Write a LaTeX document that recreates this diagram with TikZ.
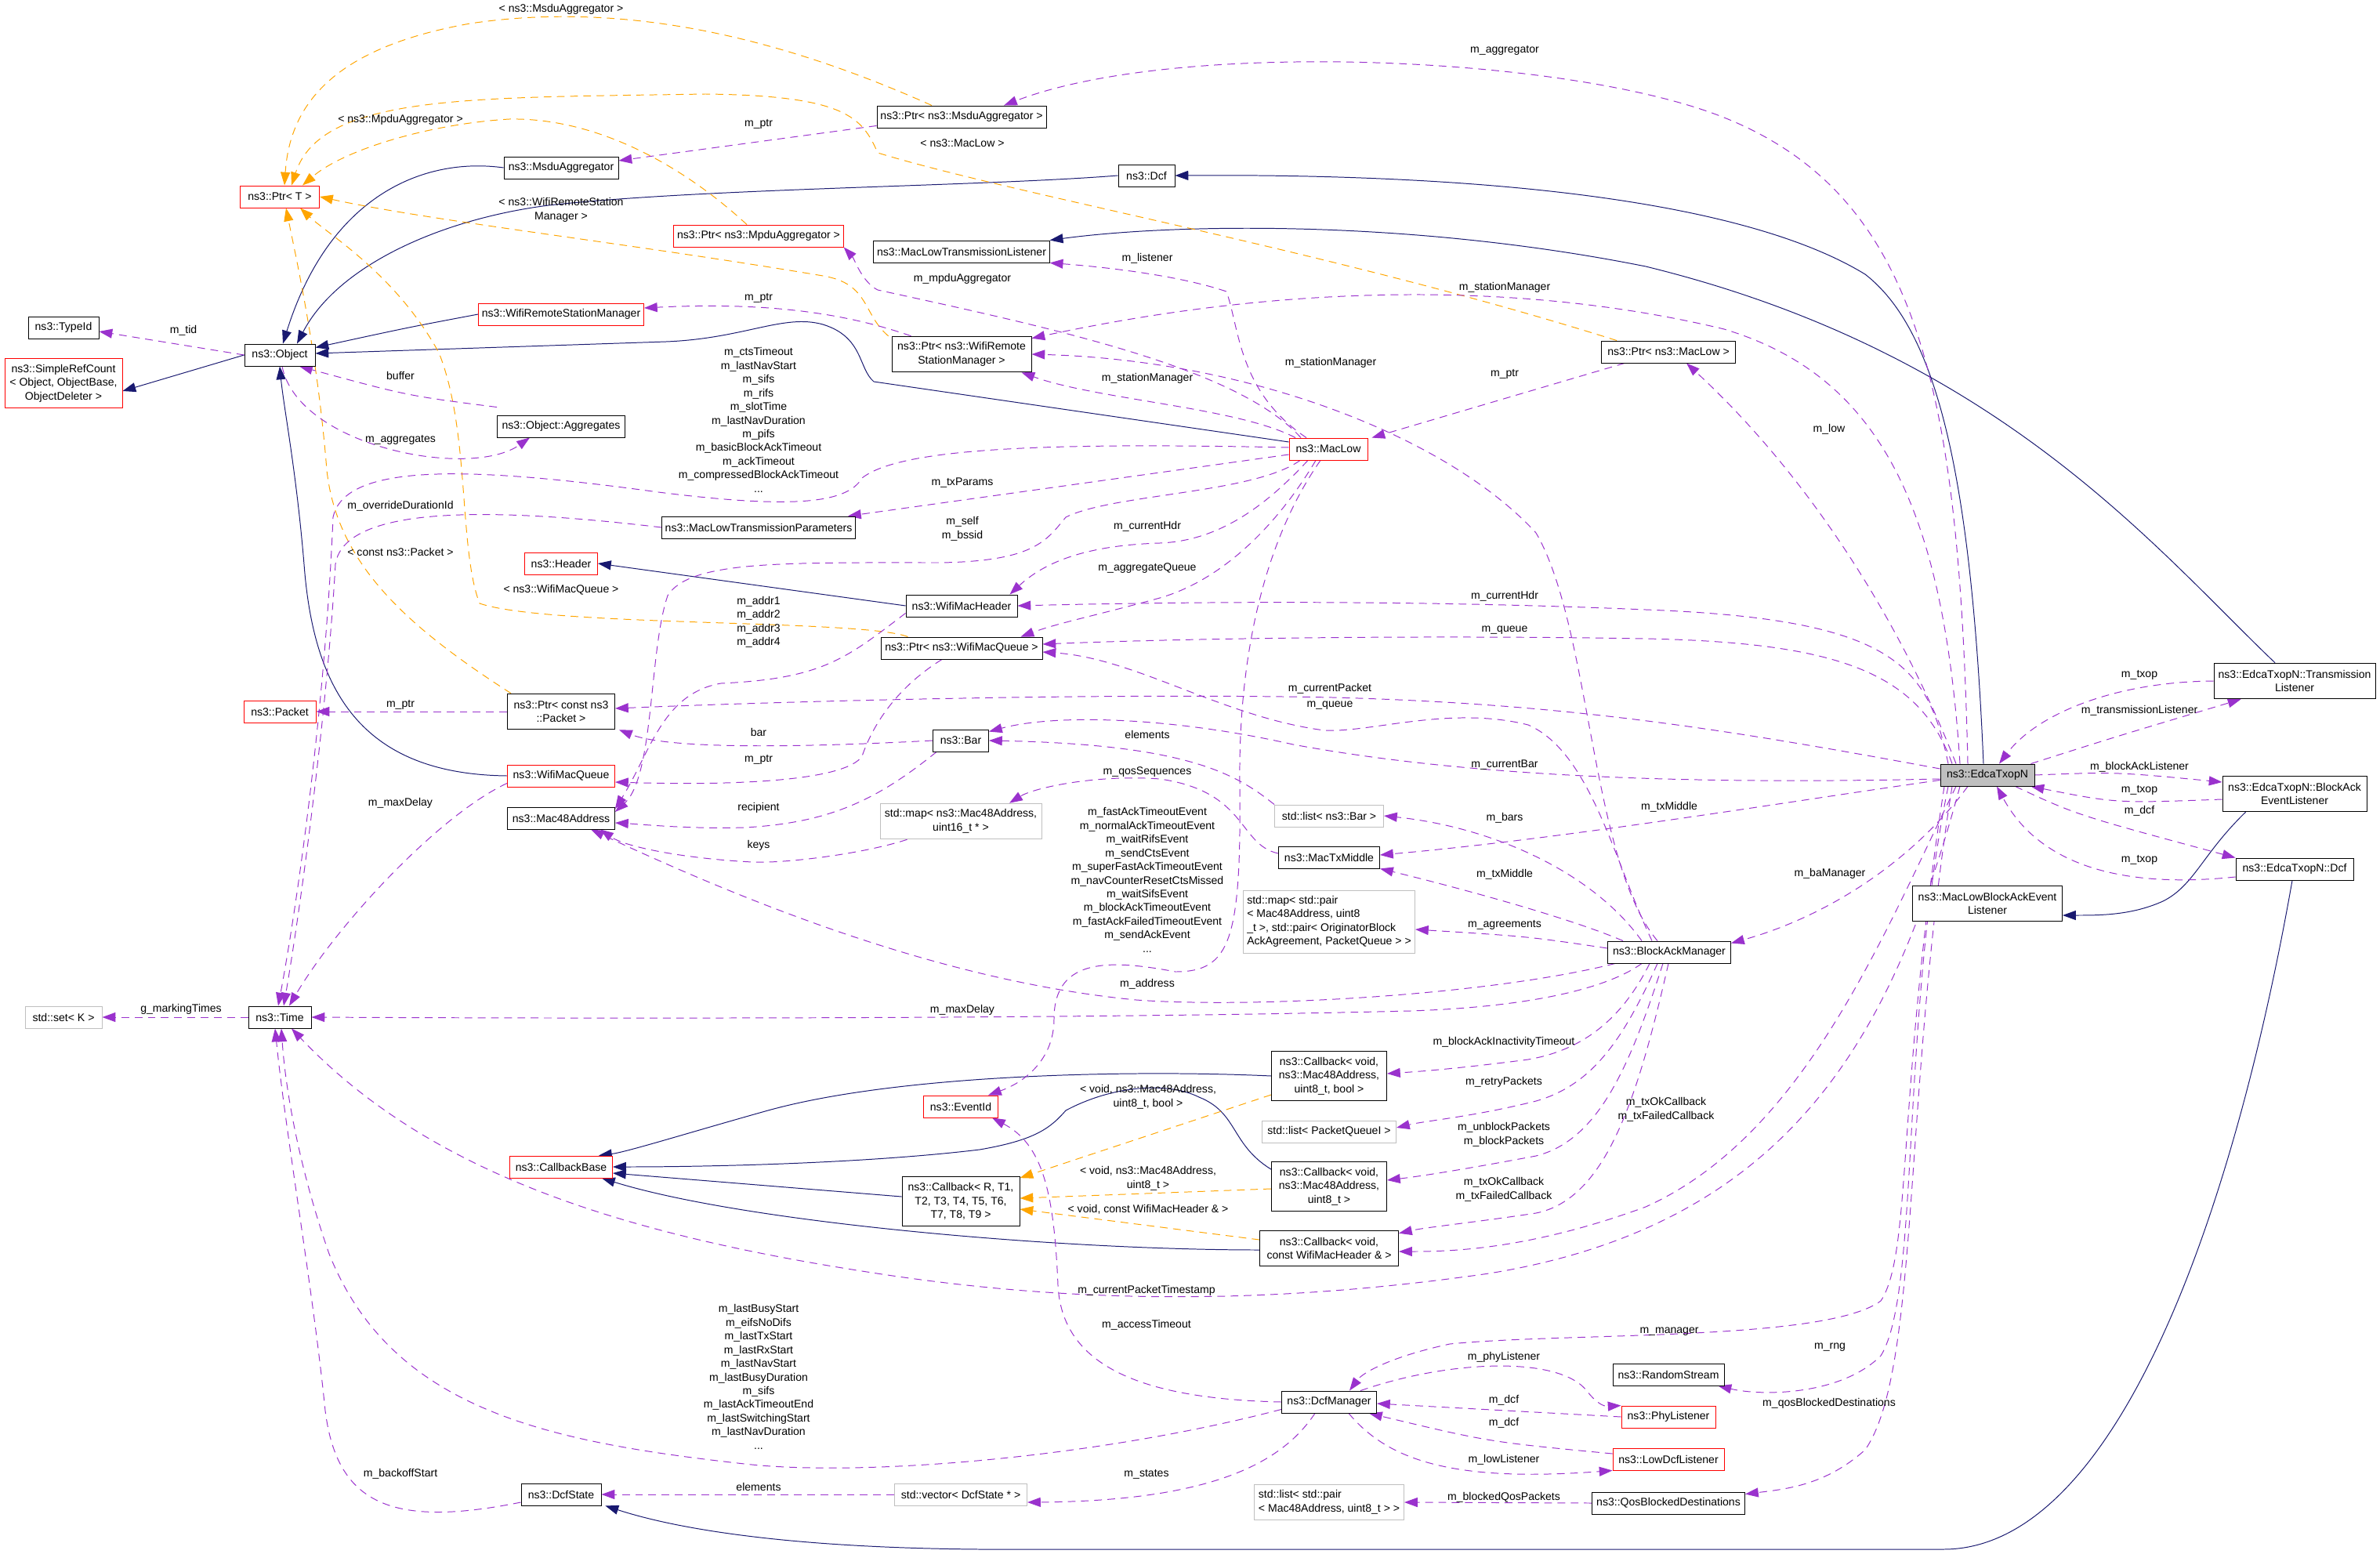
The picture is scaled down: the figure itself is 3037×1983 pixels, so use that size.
\documentclass[tikz,border=0pt]{standalone}
\usepackage{fontspec}
\setmainfont{Liberation Sans}
\usepackage{xcolor}
\usepackage{tikz}
\usetikzlibrary{arrows.meta,calc,backgrounds}

\definecolor{inhblue}{HTML}{191970}
\definecolor{usepurple}{HTML}{9A32CD}
\definecolor{tplorange}{HTML}{FFA500}
\definecolor{undocred}{HTML}{FF0000}
\definecolor{extgray}{HTML}{BFBFBF}
\definecolor{focusgray}{HTML}{BFBFBF}

\begin{document}
\begin{tikzpicture}[
  x=0.025cm, y=-0.025cm,
  font=\fontsize{10}{12.4}\selectfont,
  cls/.style={draw, line width=0.65pt, align=center, fill=white,
    inner xsep=3pt, inner ysep=2pt, minimum height=0.7cm},
  undoc/.style={cls, draw=undocred},
  ext/.style={cls, draw=extgray},
  bw/.style={minimum width=#1*0.025cm},
  two/.style={minimum height=1.14cm},
  three/.style={minimum height=1.57cm},
  lbl/.style={align=center, inner sep=0pt},
  inherit/.style={-{Triangle[length=0.42cm,width=0.3cm]}, inhblue, line width=0.7pt},
  uses/.style={-{Triangle[length=0.42cm,width=0.3cm]}, usepurple, line width=0.7pt,
    dash pattern=on 7pt off 5pt},
  tmpl/.style={-{Triangle[length=0.42cm,width=0.3cm]}, tplorange, line width=0.7pt,
    dash pattern=on 7pt off 5pt},
]
\useasboundingbox (0,0) rectangle (3037,1983);

\node[undoc, bw=101] (ptrT) at (357,251) {ns3::Ptr< T >};
\node[cls, bw=146] (msdu) at (716,214) {ns3::MsduAggregator};
\node[cls, bw=216] (ptrMsdu) at (1227,149) {ns3::Ptr< ns3::MsduAggregator >};
\node[cls, bw=72] (dcf) at (1463,224) {ns3::Dcf};
\node[cls, bw=224] (lowTxListener) at (1227,321) {ns3::MacLowTransmissionListener};
\node[undoc, bw=215] (ptrMpdu) at (968,301) {ns3::Ptr< ns3::MpduAggregator >};
\node[undoc, bw=210] (stationMgr) at (716,401) {ns3::WifiRemoteStationManager};
\node[cls, bw=90] (typeId) at (81,418) {ns3::TypeId};
\node[cls, bw=90] (object) at (357,453) {ns3::Object};
\node[undoc, bw=150, three] (refCount) at (81,489) {ns3::SimpleRefCount\\< Object, ObjectBase,\\ObjectDeleter >};
\node[cls, bw=178, two] (ptrStation) at (1227,452) {ns3::Ptr< ns3::WifiRemote\\StationManager >};
\node[cls, bw=171] (ptrMacLow) at (2129,449) {ns3::Ptr< ns3::MacLow >};
\node[cls, bw=163] (aggregates) at (716,544) {ns3::Object::Aggregates};
\node[undoc, bw=100] (macLow) at (1695,573) {ns3::MacLow};
\node[cls, bw=246] (txParams) at (968,673) {ns3::MacLowTransmissionParameters};
\node[undoc, bw=93] (header) at (716,719) {ns3::Header};
\node[cls, bw=142] (macHeader) at (1227,773) {ns3::WifiMacHeader};
\node[cls, bw=206] (ptrQueue) at (1227,827) {ns3::Ptr< ns3::WifiMacQueue >};
\node[undoc, bw=92] (packet) at (357,908) {ns3::Packet};
\node[cls, bw=137, two] (ptrPacket) at (716,908) {ns3::Ptr< const ns3\\::Packet >};
\node[cls, bw=71] (bar) at (1226,945) {ns3::Bar};
\node[undoc, bw=137] (macQueue) at (716,990) {ns3::WifiMacQueue};
\node[cls, bw=137] (mac48) at (716,1044) {ns3::Mac48Address};
\node[ext, bw=206, two] (seqMap) at (1226,1048) {std::map< ns3::Mac48Address,\\uint16\_t * >};
\node[ext, bw=139] (barList) at (1696,1041) {std::list< ns3::Bar >};
\node[cls, bw=129] (txMiddle) at (1696,1094) {ns3::MacTxMiddle};
\node[ext, bw=219, minimum height=2cm, align=left] (agreementMap) at (1696,1176) {std::map< std::pair\\< Mac48Address, uint8\\\_t >, std::pair< OriginatorBlock\\AckAgreement, PacketQueue > >};
\node[cls, bw=157] (baManager) at (2130,1215) {ns3::BlockAckManager};
\node[cls, bw=120, fill=focusgray] (edca) at (2536,989) {ns3::EdcaTxopN};
\node[cls, bw=206, two] (txListener) at (2928,869) {ns3::EdcaTxopN::Transmission\\Listener};
\node[cls, bw=184, two] (baListener) at (2928,1013) {ns3::EdcaTxopN::BlockAck\\EventListener};
\node[cls, bw=150] (edcaDcf) at (2928,1109) {ns3::EdcaTxopN::Dcf};
\node[cls, bw=191, two] (lowBaListener) at (2536,1153) {ns3::MacLowBlockAckEvent\\Listener};
\node[ext, bw=98] (setK) at (81,1298) {std::set< K >};
\node[cls, bw=80] (time) at (357,1298) {ns3::Time};
\node[undoc, bw=95] (eventId) at (1226,1412) {ns3::EventId};
\node[cls, bw=147, three] (cbBool) at (1696,1373) {ns3::Callback< void,\\ns3::Mac48Address,\\uint8\_t, bool >};
\node[ext, bw=171] (queueList) at (1696,1444) {std::list< PacketQueueI >};
\node[undoc, bw=131] (cbBase) at (716,1489) {ns3::CallbackBase};
\node[cls, bw=150, three] (cbGeneric) at (1226,1533) {ns3::Callback< R, T1,\\T2, T3, T4, T5, T6,\\T7, T8, T9 >};
\node[cls, bw=147, three] (cbUint) at (1696,1514) {ns3::Callback< void,\\ns3::Mac48Address,\\uint8\_t >};
\node[cls, bw=177, two] (cbHeader) at (1696,1593) {ns3::Callback< void,\\const WifiMacHeader \& >};
\node[cls, bw=142] (rng) at (2129,1754) {ns3::RandomStream};
\node[cls, bw=121] (dcfManager) at (1696,1789) {ns3::DcfManager};
\node[undoc, bw=120] (phyListener) at (2129,1808) {ns3::PhyListener};
\node[undoc, bw=142] (lowListener) at (2129,1862) {ns3::LowDcfListener};
\node[cls, bw=102] (dcfState) at (716,1907) {ns3::DcfState};
\node[ext, bw=169] (stateVector) at (1226,1907) {std::vector< DcfState * >};
\node[ext, bw=191, two, align=left] (packetList) at (1696,1917) {std::list< std::pair\\< Mac48Address, uint8\_t > >};
\node[cls, bw=195] (blockedDest) at (2129,1918) {ns3::QosBlockedDestinations};

\node[lbl] (tMsdu) at (716,12) {< ns3::MsduAggregator >};
\node[lbl] (tMpdu) at (511,153) {< ns3::MpduAggregator >};
\node[lbl] (tPtrMsdu) at (968,158) {m\_ptr};
\node[lbl] (tStation) at (716,268) {< ns3::WifiRemoteStation\\Manager >};
\node[lbl] (tPtrStation) at (968,380) {m\_ptr};
\node[lbl] (tTid) at (234,422) {m\_tid};
\node[lbl] (tBuffer) at (511,479) {buffer};
\node[lbl] (tAggregates) at (511,561) {m\_aggregates};
\node[lbl] (tLowTimes) at (968,536) {m\_ctsTimeout\\m\_lastNavStart\\m\_sifs\\m\_rifs\\m\_slotTime\\m\_lastNavDuration\\m\_pifs\\m\_basicBlockAckTimeout\\m\_ackTimeout\\m\_compressedBlockAckTimeout\\...};
\node[lbl] (tOverride) at (511,646) {m\_overrideDurationId};
\node[lbl] (tPacketTpl) at (511,704) {< const ns3::Packet >};
\node[lbl] (tQueueTpl) at (716,753) {< ns3::WifiMacQueue >};
\node[lbl] (tAddr) at (968,794) {m\_addr1\\m\_addr2\\m\_addr3\\m\_addr4};
\node[lbl] (tPtrPacket) at (511,899) {m\_ptr};
\node[lbl] (tBar) at (968,934) {bar};
\node[lbl] (tPtrQueue) at (968,969) {m\_ptr};
\node[lbl] (tQueueDelay) at (511,1025) {m\_maxDelay};
\node[lbl] (tRecipient) at (968,1031) {recipient};
\node[lbl] (tKeys) at (968,1079) {keys};
\node[lbl] (tMarking) at (231,1288) {g\_markingTimes};
\node[lbl] (tAggregator) at (1920,64) {m\_aggregator};
\node[lbl] (tMacLowTpl) at (1228,183) {< ns3::MacLow >};
\node[lbl] (tListener) at (1464,330) {m\_listener};
\node[lbl] (tMpduAgg) at (1228,356) {m\_mpduAggregator};
\node[lbl] (tStationEdca) at (1920,367) {m\_stationManager};
\node[lbl] (tStationBa) at (1698,463) {m\_stationManager};
\node[lbl] (tPtrMacLow) at (1920,477) {m\_ptr};
\node[lbl] (tStationLow) at (1464,483) {m\_stationManager};
\node[lbl] (tLow) at (2334,548) {m\_low};
\node[lbl] (tTxParams) at (1228,616) {m\_txParams};
\node[lbl] (tSelf) at (1228,675) {m\_self\\m\_bssid};
\node[lbl] (tHdrLow) at (1464,672) {m\_currentHdr};
\node[lbl] (tAggQueue) at (1464,725) {m\_aggregateQueue};
\node[lbl] (tHdrEdca) at (1920,761) {m\_currentHdr};
\node[lbl] (tQueueEdca) at (1920,804) {m\_queue};
\node[lbl] (tCurPacket) at (1697,879) {m\_currentPacket};
\node[lbl] (tQueueBa) at (1697,900) {m\_queue};
\node[lbl] (tBarElems) at (1464,937) {elements};
\node[lbl] (tCurBar) at (1920,976) {m\_currentBar};
\node[lbl] (tQosSeq) at (1464,985) {m\_qosSequences};
\node[lbl] (tLowEvents) at (1464,1123) {m\_fastAckTimeoutEvent\\m\_normalAckTimeoutEvent\\m\_waitRifsEvent\\m\_sendCtsEvent\\m\_superFastAckTimeoutEvent\\m\_navCounterResetCtsMissed\\m\_waitSifsEvent\\m\_blockAckTimeoutEvent\\m\_fastAckFailedTimeoutEvent\\m\_sendAckEvent\\...};
\node[lbl] (tBars) at (1920,1044) {m\_bars};
\node[lbl] (tMiddleBa) at (1920,1116) {m\_txMiddle};
\node[lbl] (tAgreements) at (1920,1180) {m\_agreements};
\node[lbl] (tAddress) at (1464,1256) {m\_address};
\node[lbl] (tBaDelay) at (1228,1289) {m\_maxDelay};
\node[lbl] (tTxopTl) at (2730,861) {m\_txop};
\node[lbl] (tTxListener) at (2730,907) {m\_transmissionListener};
\node[lbl] (tBaListener) at (2730,979) {m\_blockAckListener};
\node[lbl] (tTxopBal) at (2730,1008) {m\_txop};
\node[lbl] (tDcfEdca) at (2730,1035) {m\_dcf};
\node[lbl] (tTxopDcf) at (2730,1097) {m\_txop};
\node[lbl] (tMiddleEdca) at (2130,1030) {m\_txMiddle};
\node[lbl] (tBaMgr) at (2335,1115) {m\_baManager};
\node[lbl] (tInactivity) at (1919,1330) {m\_blockAckInactivityTimeout};
\node[lbl] (tRetry) at (1919,1381) {m\_retryPackets};
\node[lbl] (tUnblock) at (1919,1448) {m\_unblockPackets\\m\_blockPackets};
\node[lbl] (tTxOkBa) at (1919,1518) {m\_txOkCallback\\m\_txFailedCallback};
\node[lbl] (tTxOkEdca) at (2126,1416) {m\_txOkCallback\\m\_txFailedCallback};
\node[lbl] (tTimestamp) at (1463,1647) {m\_currentPacketTimestamp};
\node[lbl] (tAccess) at (1463,1691) {m\_accessTimeout};
\node[lbl] (tPhyL) at (1919,1732) {m\_phyListener};
\node[lbl] (tDcfPhy) at (1919,1787) {m\_dcf};
\node[lbl] (tDcfLow) at (1919,1816) {m\_dcf};
\node[lbl] (tLowL) at (1919,1863) {m\_lowListener};
\node[lbl] (tStates) at (1463,1881) {m\_states};
\node[lbl] (tBlockedPk) at (1919,1911) {m\_blockedQosPackets};
\node[lbl] (tManager) at (2130,1699) {m\_manager};
\node[lbl] (tRng) at (2335,1719) {m\_rng};
\node[lbl] (tQosBlocked) at (2334,1791) {m\_qosBlockedDestinations};
\node[lbl] (tMgrTimes) at (968,1757) {m\_lastBusyStart\\m\_eifsNoDifs\\m\_lastTxStart\\m\_lastRxStart\\m\_lastNavStart\\m\_lastBusyDuration\\m\_sifs\\m\_lastAckTimeoutEnd\\m\_lastSwitchingStart\\m\_lastNavDuration\\...};
\node[lbl] (tBackoff) at (511,1881) {m\_backoffStart};
\node[lbl] (tStateElems) at (968,1897) {elements};
\node[lbl] (tCbBool) at (1465,1400) {< void, ns3::Mac48Address,\\uint8\_t, bool >};
\node[lbl] (tCbUint) at (1465,1504) {< void, ns3::Mac48Address,\\uint8\_t >};
\node[lbl] (tCbHeader) at (1465,1543) {< void, const WifiMacHeader \& >};

\begin{scope}[on background layer]
\draw[inherit] (msdu.west) .. controls (540,200) and (420,250) .. ($(object.north)+(4,0)$);
\draw[inherit] (dcf.west) .. controls (1250,238) and (900,240) .. (700,262) .. controls (560,280) and (430,340) .. ($(object.north)+(22,0)$);
\draw[inherit] (stationMgr.west) .. controls (520,418) .. ($(object.north east)+(0,5)$);
\draw[inherit] ($(macLow.west)+(0,-9)$) -- (1115,487) .. controls (1095,470) and (1102,430) .. (1050,414) .. controls (1000,400) and (950,432) .. (850,436) -- ($(object.east)+(0,-2)$);
\draw[inherit] (object.west) -- ($(refCount.east)+(0,10)$);
\draw[inherit] (macHeader.west) -- (header.east);
\draw[inherit] (macQueue.west) .. controls (460,988) and (400,880) .. (388,720) .. controls (378,600) and (362,520) .. (object.south);
\draw[inherit] (cbBool.west) .. controls (1450,1365) and (1150,1370) .. (980,1417) .. controls (880,1445) and (800,1470) .. ($(cbBase.north east)+(-18,0)$);
\draw[inherit] ($(cbUint.north west)+(0,10)$) .. controls (1570,1460) and (1580,1420) .. (1530,1400) .. controls (1490,1380) and (1420,1385) .. (1360,1417) .. controls (1340,1440) and (1320,1455) .. (1250,1467) .. controls (1100,1485) and (900,1489) .. (cbBase.east);
\draw[inherit] ($(cbGeneric.west)+(0,-6)$) -- ($(cbBase.east)+(0,8)$);
\draw[inherit] ($(cbHeader.west)+(0,2)$) .. controls (1350,1595) and (950,1560) .. ($(cbBase.south east)+(-14,0)$);
\draw[inherit] ($(edca.north)+(-5,0)$) .. controls (2515,600) and (2470,420) .. (2380,350) .. controls (2200,240) and (1800,222) .. (dcf.east);
\draw[inherit] ($(txListener.north)+(-25,0)$) .. controls (2750,700) and (2550,450) .. (2100,340) .. controls (1800,280) and (1500,285) .. (lowTxListener.north east);
\draw[inherit] ($(baListener.south west)+(30,0)$) .. controls (2810,1090) and (2800,1130) .. (2760,1150) .. controls (2720,1168) and (2680,1168) .. ($(lowBaListener.east)+(0,15)$);
\draw[inherit] ($(edcaDcf.south)+(-3,0)$) .. controls (2850,1550) and (2700,1977) .. (2480,1977) -- (1250,1977) .. controls (1000,1975) and (860,1950) .. ($(dcfState.south east)+(5,0)$);

\draw[tmpl] ($(ptrMsdu.north)+(-38,0)$) .. controls (1000,50) and (800,0) .. (600,30) .. controls (430,60) and (370,130) .. ($(ptrT.north)+(6,0)$);
\draw[tmpl] ($(ptrMpdu.north)+(-15,0)$) .. controls (870,210) and (760,150) .. (650,152) .. controls (550,158) and (440,190) .. ($(ptrT.north)+(29,0)$);
\draw[tmpl] ($(ptrStation.north west)+(-4,0)$) .. controls (1100,400) and (1110,362) .. (1050,352) .. controls (800,310) and (550,282) .. (ptrT.east);
\draw[tmpl] ($(ptrMacLow.north west)+(20,0)$) .. controls (1700,320) and (1300,250) .. (1120,195) .. controls (1100,150) and (1080,122) .. (900,120) .. controls (600,125) and (410,120) .. ($(ptrT.north)+(15,0)$);
\draw[tmpl] ($(ptrPacket.north west)+(5,0)$) .. controls (520,800) and (430,720) .. (417,600) .. controls (405,450) and (378,330) .. ($(ptrT.south)+(8,0)$);
\draw[tmpl] ($(ptrQueue.north west)+(35,0)$) .. controls (1100,790) and (700,800) .. (612,770) .. controls (585,700) and (600,550) .. (560,450) .. controls (505,350) and (420,300) .. ($(ptrT.south east)+(-25,0)$);
\draw[tmpl] ($(cbBool.west)+(0,24)$) -- ($(cbGeneric.north east)+(0,2)$);
\draw[tmpl] ($(cbUint.west)+(0,3)$) -- ($(cbGeneric.east)+(0,-4)$);
\draw[tmpl] ($(cbHeader.west)+(0,-11)$) -- ($(cbGeneric.east)+(0,10)$);

\draw[uses] (object.west) -- ($(typeId.east)+(0,5)$);
\draw[uses] ($(aggregates.north west)+(0,-10)$) .. controls (520,505) .. ($(object.south)+(25,0)$);
\draw[uses] ($(object.south)+(3,0)$) .. controls (380,570) and (600,612) .. ($(aggregates.south)+(-40,0)$);
\draw[uses] ($(ptrMsdu.south west)+(0,-3)$) -- ($(msdu.east)+(0,-9)$);
\draw[uses] ($(ptrStation.north west)+(25,0)$) .. controls (1080,400) and (980,385) .. ($(stationMgr.east)+(0,-8)$);
\draw[uses] ($(edca.north)+(-25,0)$) .. controls (2500,500) and (2450,250) .. (2200,150) .. controls (2000,70) and (1500,50) .. ($(ptrMsdu.north)+(54,0)$);
\draw[uses] ($(macLow.north)+(-35,0)$) .. controls (1580,470) and (1350,420) .. (1120,370) .. controls (1100,360) and (1090,330) .. (ptrMpdu.south east);
\draw[uses] ($(macLow.north)+(-28,0)$) .. controls (1580,500) and (1582,420) .. (1565,372) .. controls (1500,350) and (1400,340) .. (lowTxListener.south east);
\draw[uses] ($(macLow.north)+(-42,0)$) .. controls (1580,520) and (1400,510) .. ($(ptrStation.south east)+(-13,0)$);
\draw[uses] ($(baManager.north)+(-15,0)$) .. controls (2030,1100) and (2030,800) .. (1960,680) .. controls (1850,560) and (1600,460) .. (ptrStation.east);
\draw[uses] ($(edca.north)+(-35,0)$) .. controls (2480,650) and (2400,480) .. (2200,420) .. controls (1950,360) and (1650,360) .. ($(ptrStation.north east)+(0,3)$);
\draw[uses] ($(edca.north)+(-40,0)$) .. controls (2420,780) and (2300,600) .. ($(ptrMacLow.south)+(23,0)$);
\draw[uses] ($(ptrMacLow.south west)+(30,0)$) -- ($(macLow.north east)+(5,0)$);
\draw[uses] ($(macLow.west)+(0,-2)$) .. controls (1350,565) and (1150,570) .. (1100,610) .. controls (1080,645) and (1000,648) .. (840,628) .. controls (600,595) and (440,590) .. (425,660) .. controls (415,900) and (380,1150) .. ($(time.north)+(-2,0)$);
\draw[uses] ($(macLow.west)+(0,7)$) -- ($(txParams.north east)+(-10,0)$);
\draw[uses] (txParams.west) .. controls (650,650) and (440,640) .. (428,720) .. controls (418,900) and (385,1150) .. ($(time.north)+(5,0)$);
\draw[uses] ($(macLow.south)+(-26,0)$) .. controls (1620,640) and (1560,690) .. (1480,693) .. controls (1380,696) and (1330,720) .. ($(macHeader.north east)+(-10,0)$);
\draw[uses] ($(macLow.south)+(-16,0)$) .. controls (1630,670) and (1560,740) .. (1480,763) .. controls (1400,785) and (1350,795) .. ($(ptrQueue.north east)+(-28,0)$);
\draw[uses] ($(macLow.south)+(-36,0)$) .. controls (1600,630) and (1420,630) .. (1360,660) .. controls (1335,690) and (1320,716) .. (1200,718) .. controls (1000,718) and (880,715) .. (852,760) .. controls (828,830) and (835,990) .. ($(mac48.east)+(0,-8)$);
\draw[uses] ($(macHeader.south west)+(0,-5)$) .. controls (1080,840) and (1050,866) .. (920,872) .. controls (845,885) and (830,960) .. ($(mac48.east)+(0,-12)$);
\draw[uses] ($(ptrQueue.south)+(-25,0)$) .. controls (1140,880) and (1112,930) .. (1100,965) .. controls (1080,995) and (950,1003) .. ($(macQueue.east)+(0,8)$);
\draw[uses] (ptrPacket.west) -- (packet.east);
\draw[uses] ($(edca.west)+(0,-8)$) .. controls (2200,930) and (2000,898) .. (1700,890) .. controls (1400,884) and (1000,895) .. ($(ptrPacket.east)+(0,-4)$);
\draw[uses] (bar.west) .. controls (1000,955) and (850,955) .. ($(ptrPacket.south east)+(5,0)$);
\draw[uses] ($(bar.south west)+(5,0)$) .. controls (1120,1020) and (1060,1050) .. (950,1056) .. controls (880,1058) and (820,1052) .. ($(mac48.east)+(0,6)$);
\draw[uses] ($(seqMap.south west)+(35,0)$) .. controls (1100,1090) and (1000,1102) .. (960,1100) .. controls (880,1096) and (800,1082) .. ($(mac48.south)+(50,0)$);
\draw[uses] ($(baManager.south west)+(10,0)$) .. controls (1900,1270) and (1600,1287) .. (1450,1276) .. controls (1200,1252) and (950,1150) .. ($(mac48.south)+(38,0)$);
\draw[uses] ($(edca.west)+(0,5)$) .. controls (2200,1000) and (1900,996) .. (1650,950) .. controls (1500,916) and (1350,910) .. ($(bar.north east)+(0,3)$);
\draw[uses] (barList.north west) .. controls (1580,990) and (1520,950) .. (bar.east);
\draw[uses] ($(txMiddle.west)+(0,-5)$) .. controls (1580,1078) and (1592,1010) .. (1480,994) .. controls (1400,988) and (1320,1005) .. ($(seqMap.north)+(62,0)$);
\draw[uses] ($(baManager.north)+(-35,0)$) .. controls (2030,1110) and (1900,1055) .. (barList.east);
\draw[uses] ($(edca.south west)+(0,-8)$) .. controls (2300,1020) and (2000,1070) .. ($(txMiddle.east)+(0,-3)$);
\draw[uses] ($(baManager.north west)+(20,0)$) .. controls (2000,1170) and (1850,1130) .. (txMiddle.south east);
\draw[uses] ($(baManager.west)+(0,-5)$) .. controls (1950,1195) .. ($(agreementMap.east)+(0,10)$);
\draw[uses] ($(baManager.south)+(-35,0)$) .. controls (2050,1262) and (1950,1285) .. (1800,1290) .. controls (1400,1300) and (800,1300) .. (time.east);
\draw[uses] ($(macQueue.south west)+(0,-5)$) .. controls (560,1040) and (430,1180) .. ($(time.north)+(12,0)$);
\draw[uses] ($(baManager.north)+(-22,0)$) .. controls (2060,1100) and (2030,960) .. (1950,925) .. controls (1850,900) and (1750,935) .. (1690,932) .. controls (1560,915) and (1450,840) .. ($(ptrQueue.east)+(0,5)$);
\draw[uses] ($(edca.north)+(-45,0)$) .. controls (2450,860) and (2350,820) .. (2100,815) .. controls (1800,810) and (1500,815) .. ($(ptrQueue.east)+(0,-5)$);
\draw[uses] ($(edca.north)+(-50,0)$) .. controls (2460,850) and (2420,790) .. (2100,778) .. controls (1800,765) and (1500,768) .. (macHeader.east);
\draw[uses] ($(baManager.south)+(-25,0)$) .. controls (2070,1300) and (2020,1340) .. (1950,1352) .. controls (1850,1365) and (1800,1368) .. ($(cbBool.east)+(0,-3)$);
\draw[uses] ($(baManager.south)+(-15,0)$) .. controls (2070,1330) and (2030,1385) .. (1960,1405) .. controls (1880,1425) and (1820,1430) .. ($(queueList.east)+(0,-5)$);
\draw[uses] ($(baManager.south)+(-8,0)$) .. controls (2080,1360) and (2040,1455) .. (1960,1475) .. controls (1880,1490) and (1820,1500) .. ($(cbUint.east)+(0,-8)$);
\draw[uses] ($(baManager.south)+(-1,0)$) .. controls (2090,1400) and (2050,1530) .. (1960,1548) .. controls (1880,1560) and (1820,1566) .. ($(cbHeader.north east)+(0,4)$);
\draw[uses] ($(edca.south)+(-40,0)$) .. controls (2400,1200) and (2300,1450) .. (2100,1540) .. controls (1950,1595) and (1850,1597) .. ($(cbHeader.east)+(0,4)$);
\draw[uses] ($(edca.south)+(-35,0)$) .. controls (2420,1300) and (2300,1560) .. (1900,1625) .. controls (1600,1668) and (1350,1662) .. (1100,1622) .. controls (800,1575) and (550,1500) .. ($(time.south)+(15,0)$);
\draw[uses] ($(edca.south)+(-55,0)$) .. controls (2420,1400) and (2440,1600) .. (2400,1660) .. controls (2330,1712) and (2000,1700) .. (1850,1715) .. controls (1780,1730) and (1740,1750) .. ($(dcfManager.north)+(26,0)$);
\draw[uses] ($(edca.south)+(-50,0)$) .. controls (2425,1300) and (2450,1650) .. (2400,1730) .. controls (2350,1780) and (2250,1782) .. ($(rng.south east)+(-8,0)$);
\draw[uses] ($(edca.south)+(-45,0)$) .. controls (2428,1400) and (2450,1750) .. (2380,1850) .. controls (2330,1895) and (2280,1900) .. ($(blockedDest.north east)+(0,3)$);
\draw[uses] ($(edca.south)+(-25,0)$) .. controls (2440,1100) and (2330,1170) .. ($(baManager.north east)+(0,3)$);
\draw[uses] (txListener.west) .. controls (2700,870) and (2600,910) .. ($(edca.north)+(15,0)$);
\draw[uses] ($(edca.north east)+(-5,0)$) .. controls (2700,940) .. ($(txListener.south west)+(35,0)$);
\draw[uses] (edca.east) .. controls (2700,985) .. ($(baListener.west)+(0,-15)$);
\draw[uses] ($(baListener.west)+(0,7)$) .. controls (2700,1025) .. ($(edca.south east)+(-5,0)$);
\draw[uses] ($(edca.south east)+(-25,0)$) .. controls (2650,1040) .. (edcaDcf.north west);
\draw[uses] ($(edcaDcf.west)+(0,10)$) .. controls (2700,1135) and (2600,1100) .. ($(edca.south)+(12,0)$);
\draw[uses] ($(macLow.south)+(-10,0)$) .. controls (1620,680) and (1580,820) .. (1582,1000) .. controls (1584,1200) and (1570,1240) .. (1500,1240) .. controls (1420,1225) and (1345,1220) .. (1345,1300) .. controls (1345,1350) and (1310,1380) .. ($(eventId.north)+(35,0)$);
\draw[uses] (dcfManager.west) .. controls (1450,1785) and (1355,1740) .. (1350,1640) .. controls (1345,1520) and (1330,1460) .. ($(eventId.south)+(40,0)$);
\draw[uses] ($(dcfManager.south west)+(0,-5)$) .. controls (1400,1860) and (1100,1885) .. (950,1868) .. controls (700,1840) and (500,1800) .. (420,1600) .. controls (385,1500) and (365,1400) .. ($(time.south)+(2,0)$);
\draw[uses] ($(dcfState.west)+(0,10)$) .. controls (500,1950) and (430,1920) .. (415,1800) .. controls (400,1650) and (365,1450) .. ($(time.south)+(-6,0)$);
\draw[uses] (time.west) -- (setK.east);
\draw[uses] (stateVector.west) -- (dcfState.east);
\draw[uses] ($(dcfManager.south)+(-18,0)$) .. controls (1640,1860) and (1560,1915) .. ($(stateVector.east)+(0,10)$);
\draw[uses] ($(dcfManager.north)+(40,0)$) .. controls (1850,1735) and (1990,1730) .. (2025,1775) .. controls (2035,1788) and (2045,1795) .. (phyListener.north west);
\draw[uses] (phyListener.west) -- ($(dcfManager.east)+(0,2)$);
\draw[uses] ($(lowListener.west)+(0,-7)$) .. controls (1900,1840) .. ($(dcfManager.south east)+(-10,0)$);
\draw[uses] ($(dcfManager.south)+(25,0)$) .. controls (1770,1862) and (1850,1892) .. (lowListener.south west);
\draw[uses] (blockedDest.west) -- (packetList.east);
\end{scope}
\end{tikzpicture}
\end{document}
